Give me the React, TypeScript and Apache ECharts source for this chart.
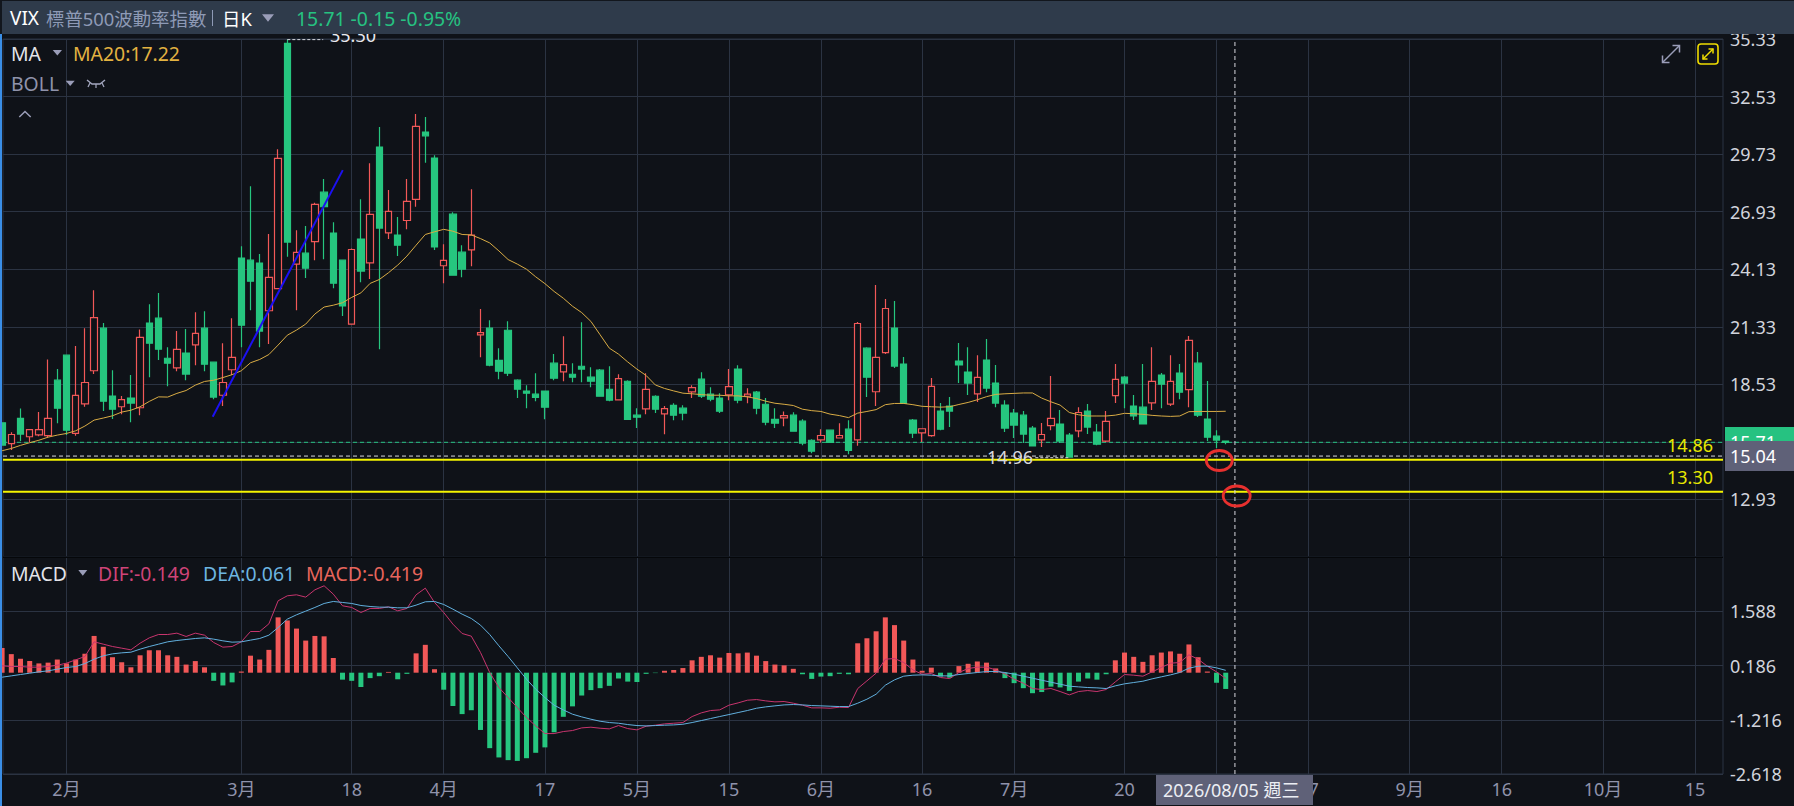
import React, { useEffect, useRef } from "react";
import * as echarts from "echarts";

const firstSlot = -1;
const candles: number[][] = [
[16.66,15.57,15.57,16.66],[15.65,16.09,15.33,16.20],[16.87,16.11,15.77,17.36],[15.98,16.33,15.73,16.33],[16.07,16.33,16.01,17.18],[16.03,16.87,15.94,19.74],[18.73,17.37,16.64,19.27],[19.95,16.30,16.06,19.95],[16.14,17.99,16.03,20.39],[17.58,18.62,17.44,21.26],
[19.19,21.78,19.03,23.11],[21.26,17.71,17.23,21.51],[17.96,17.32,16.84,19.22],[17.44,17.79,17.08,17.96],[17.86,17.62,16.69,18.98],[17.39,20.81,17.03,21.20],[21.51,20.53,18.88,22.43],[21.75,20.24,19.71,22.97],[19.80,19.56,18.44,20.34],[19.33,20.23,19.17,21.12],
[20.05,19.03,18.73,21.22],[20.45,21.01,19.46,22.04],[21.26,19.51,19.17,22.09],[19.61,17.91,17.81,19.61],[18.00,18.62,17.47,20.53],[19.24,19.84,18.98,21.75],[24.67,21.41,20.34,25.25],[24.57,23.55,22.14,28.17],[24.43,21.12,20.34,24.87],[22.11,23.73,20.49,25.84],
[23.19,29.52,23.16,29.97],[35.12,25.45,24.74,35.30],[24.38,24.95,22.14,26.03],[24.91,24.18,23.70,26.23],[25.47,27.28,24.57,27.36],[27.88,27.17,24.62,28.52],[25.89,23.45,23.21,26.42],[24.57,22.34,21.85,24.57],[21.46,25.09,21.46,25.14],[25.60,24.04,23.50,27.54],
[24.44,26.80,23.65,29.29],[30.07,26.13,20.24,31.05],[25.90,26.94,25.60,27.98],[25.79,25.30,24.77,26.67],[26.50,27.43,26.08,28.52],[27.53,31.08,27.17,31.68],[30.80,30.62,29.31,31.53],[29.54,25.21,25.06,29.68],[24.30,24.56,23.45,25.35],
[26.81,23.84,23.84,26.90],[24.96,24.13,23.74,25.30],[25.07,25.79,24.28,28.02],[20.94,21.05,19.85,22.19],[21.26,19.46,19.41,21.65],[19.70,19.17,18.78,20.29],[21.16,19.07,18.93,21.60],[18.73,18.29,17.86,18.78],[18.20,18.10,17.37,18.49],[18.05,17.90,17.71,19.07],
[18.20,17.42,16.83,18.20],[19.56,18.83,18.73,20.00],[19.14,19.49,18.68,20.87],[19.02,18.88,18.63,19.56],[19.41,19.27,18.63,21.55],[18.88,18.68,18.39,19.36],[19.22,17.95,17.95,19.27],[18.29,17.76,17.71,19.41],[17.77,18.81,17.77,19.02],[18.68,16.83,16.83,18.73],
[17.03,16.93,16.40,17.37],[17.34,18.28,17.08,19.07],[17.95,17.32,17.13,18.00],[17.09,17.35,16.10,17.47],[17.51,17.03,16.78,17.61],[17.37,17.13,16.78,17.51],[18.16,18.37,17.86,18.49],[18.78,17.95,17.86,19.12],[18.05,17.81,17.71,18.39],[17.86,17.22,17.13,18.10],
[18.02,18.42,17.76,19.27],[19.27,17.76,17.61,19.46],[17.95,18.05,17.61,18.34],[18.15,17.37,17.08,18.20],[17.56,16.69,16.54,17.86],[16.83,16.64,16.40,17.37],[16.90,17.01,16.49,17.21],[17.03,16.25,16.25,17.17],[16.74,15.67,15.57,16.83],[15.81,15.28,15.18,15.86],
[15.83,16.04,15.70,16.35],[16.30,15.70,15.67,16.30],[15.92,16.04,15.92,16.64],[16.35,15.32,15.13,16.78],[15.83,21.49,15.54,21.56],[20.29,18.88,17.91,20.34],[18.17,19.84,17.47,23.36],[20.07,22.22,20.00,22.68],[21.27,19.42,19.32,22.58],[19.52,17.60,17.60,19.86],
[16.79,16.16,15.92,16.84],[16.17,16.37,15.72,16.37],[16.03,18.43,15.98,18.84],[17.23,16.35,16.30,17.62],[17.47,17.23,16.45,17.91],[19.66,19.47,18.59,20.54],[19.13,18.59,18.01,20.34],[18.07,18.87,17.67,19.95],[19.71,18.35,18.15,20.73],[18.59,17.62,17.42,19.47],
[17.52,16.40,16.21,17.76],[17.13,16.55,15.92,17.33],[17.03,16.11,15.67,17.23],[16.40,15.53,15.53,16.50],[15.83,16.09,15.48,16.65],[16.52,16.87,16.30,18.93],[16.60,15.77,15.67,17.28],[16.06,14.99,14.96,16.16],[16.27,17.16,15.96,17.42],[17.23,16.45,16.11,17.57],
[16.21,15.62,15.57,16.60],[15.77,16.73,15.72,17.23],[17.98,18.77,17.62,19.52],[18.88,18.59,17.37,18.93],[17.47,16.99,16.79,18.01],[17.42,16.60,16.60,19.52],[17.63,18.67,17.28,20.34],[18.98,18.54,17.37,19.08],[17.57,18.67,17.47,19.95],[19.08,18.15,17.81,19.52],
[18.27,20.67,17.42,20.88],[19.56,17.03,16.94,20.10],[16.84,15.96,15.77,18.69],[16.01,15.82,15.43,16.30],[15.77,15.71,15.62,15.77],
];
const ma20 = [
15.30,15.41,15.56,15.69,15.81,15.96,16.06,16.14,16.27,16.50,16.79,16.89,17.00,17.18,17.27,17.44,17.70,17.92,17.91,18.09,18.23,18.49,18.67,18.73,18.86,19.00,19.19,19.58,19.74,19.98,20.44,20.92,21.17,21.46,21.95,22.29,22.38,22.50,22.76,22.98,23.44,23.63,23.96,24.33,24.77,25.30,25.82,25.95,26.07,
25.98,25.82,25.80,25.62,25.41,25.02,24.60,24.38,24.13,23.76,23.43,23.05,22.72,22.33,22.02,21.59,20.94,20.29,20.00,19.62,19.27,18.96,18.50,18.33,18.21,18.10,18.07,18.03,18.00,18.00,17.97,17.97,17.92,17.84,17.71,17.61,17.56,17.50,17.32,17.25,17.21,17.08,17.01,16.91,17.13,17.21,17.30,
17.54,17.60,17.60,17.54,17.46,17.44,17.42,17.44,17.55,17.65,17.78,17.93,18.04,18.07,18.09,18.11,18.11,17.86,17.68,17.52,17.16,17.05,16.99,16.99,16.99,17.03,17.12,17.10,17.07,17.02,16.99,16.97,16.99,17.20,17.21,17.21,17.21,17.22,
];
const difValues = [
.177,.160,.160,.143,.143,.160,.194,.246,.332,.418,.798,.737,.677,.634,.591,.763,.901,.987,.987,1.022,.936,1.022,.970,.780,.660,.677,.798,1.065,1.065,1.263,1.858,1.987,2.013,1.953,2.142,2.246,2.030,1.729,1.686,1.556,1.660,1.660,1.703,1.599,1.660,2.013,2.185,1.815,1.556,
1.255,1.013,.944,.522,.005,-.383,-.642,-.901,-1.159,-1.375,-1.573,-1.573,-1.521,-1.495,-1.426,-1.409,-1.435,-1.452,-1.366,-1.444,-1.478,-1.383,-1.357,-1.323,-1.306,-1.288,-1.133,-1.038,-.978,-.961,-.840,-.780,-.711,-.694,-.728,-.754,-.745,-.788,-.840,-.909,-.909,-.918,-.892,-.901,-.409,-.211,-.013,.349,
.367,.263,.074,-.039,-.021,-.125,-.151,.005,.108,.143,.143,.074,-.030,-.168,-.271,-.409,-.435,-.409,-.487,-.573,-.487,-.461,-.487,-.435,-.237,-.047,-.064,-.090,.022,.134,.246,.263,.462,.349,.168,.022,-.149,
];
const deaValues = [
-.116,-.082,-.047,-.013,.022,.048,.091,.134,.160,.237,.349,.436,.487,.513,.530,.608,.677,.737,.798,.832,.858,.884,.901,.867,.824,.789,.798,.841,.884,.970,1.168,1.384,1.496,1.591,1.686,1.789,1.841,1.815,1.789,1.737,1.711,1.694,1.694,1.677,1.677,1.746,1.832,1.841,1.763,
1.642,1.513,1.401,1.229,.987,.694,.418,.125,-.168,-.426,-.642,-.840,-.961,-1.073,-1.142,-1.202,-1.254,-1.288,-1.306,-1.340,-1.366,-1.375,-1.366,-1.357,-1.349,-1.332,-1.288,-1.237,-1.185,-1.133,-1.082,-1.030,-.978,-.918,-.883,-.857,-.832,-.823,-.832,-.849,-.857,-.866,-.875,-.875,-.788,-.685,-.556,-.323,
-.185,-.090,-.064,-.056,-.064,-.082,-.082,-.047,-.021,.005,.030,.030,.005,-.039,-.090,-.142,-.194,-.245,-.297,-.349,-.366,-.383,-.392,-.409,-.340,-.288,-.254,-.220,-.159,-.107,-.056,.005,.117,.168,.168,.125,.061,
];
const macdValues = [
.64,.48,.36,.30,.24,.26,.34,.24,.34,.49,.95,.67,.40,.27,.14,.45,.58,.58,.45,.41,.21,.30,.14,-.21,-.33,-.25,.03,.44,.34,.59,1.43,1.35,1.14,.83,.95,.94,.38,-.18,-.21,-.37,-.14,-.09,.02,-.17,-.03,.50,.72,.09,-.44,
-.86,-1.07,-.97,-1.48,-1.95,-2.19,-2.26,-2.28,-2.21,-2.07,-1.93,-1.54,-1.14,-.87,-.59,-.45,-.40,-.34,-.15,-.23,-.24,-.03,-.01,.05,.07,.12,.32,.41,.45,.39,.51,.50,.52,.44,.30,.21,.19,.10,-.04,-.16,-.10,-.09,-.03,-.04,.76,.89,1.07,1.43,
1.23,.83,.34,.05,.13,-.10,-.13,.17,.23,.29,.26,.11,-.14,-.27,-.40,-.53,-.50,-.36,-.38,-.47,-.23,-.15,-.18,-.04,.32,.52,.41,.28,.45,.52,.55,.49,.73,.40,.03,-.26,-.42,
];
const priceTicks = [12.93, 15.73, 18.53, 21.33, 24.13, 26.93, 29.73, 32.53, 35.33];
const macdTicks = [-2.618, -1.216, 0.186, 1.588];
const xTickSlots = [6, 25, 37, 47, 58, 68, 78, 88, 99, 109, 121, 131, 141, 152, 162, 173, 183];
const xTickLabels = ["2月", "3月", "18", "4月", "17", "5月", "15", "6月", "16", "7月", "20", "8月", "17", "9月", "16", "10月", "15"];
const supportLevels = [14.86, 13.30];
const lastPrice = 15.71;
const crossPrice = 15.04;
const crossSlot = 133;
const trendLine = [[21.89, 16.95], [36.03, 28.95]];
const highMark = [[30, 35.30], [33.9, 35.30]];
const lowMark = [[111.3, 14.96], [115, 14.96]];

const XMIN = -0.902, XMAX = 186.05;
const BG = "#0f1218", GRID = "#2b3342", UP = "#f25858", DOWN = "#26c67f";
const FONT = '"Noto Sans", "Noto Sans CJK TC", sans-serif';

const slotted = (vals: number[]) => vals.map((v, i) => [i + firstSlot, v]);
const hline = (v: number) => [[XMIN, v], [XMAX, v]];

function txt(x: number, y: number, text: string, fill: string, extra: any = {}, z = 70) {
  return {
    type: "text", z, silent: true,
    style: { x, y, text, fill, font: `18px ${FONT}`, align: "left", verticalAlign: "middle", textAlign: "left", textVerticalAlign: "middle", ...extra },
  };
}
const wide = { font: `19.4px ${FONT}` };
function tri(a: number, b: number, c: number, d: number, fill = "#9a9db8") {
  return { type: "polygon", z: 70, silent: true, shape: { points: [[a, c], [b, c], [(a + b) / 2, d]] }, style: { fill } };
}
function pl(points: number[][], stroke: string, lineWidth = 1.5, z = 70) {
  return { type: "polyline", z, silent: true, shape: { points }, style: { stroke, lineWidth, fill: "none" } };
}
function ell(cx: number, cy: number, rx: number, ry: number) {
  return { type: "ellipse", z: 72, silent: true, shape: { cx, cy, rx, ry }, style: { stroke: "#e8302e", lineWidth: 2.8, fill: "none" } };
}
function expandArrow(x1: number, y1: number, x2: number, y2: number, c: string, a: number) {
  return [
    pl([[x1, y1], [x2, y2]], c),
    pl([[x2 - a, y2], [x2, y2], [x2, y2 + a]], c),
    pl([[x1, y1 - a], [x1, y1], [x1 + a, y1]], c),
  ];
}

function buildOption() {
  const graphic: any[] = [
    { type: "rect", z: 60, silent: true, shape: { x: 0, y: 0, width: 1794, height: 34 }, style: { fill: "#2f3b4b" } },
    { type: "rect", z: 60, silent: true, shape: { x: 0, y: 0, width: 1794, height: 1 }, style: { fill: "#12161d" } },
    { type: "rect", z: 61, silent: true, shape: { x: 0, y: 34, width: 2, height: 772 }, style: { fill: "#3a8ee6" } },
    { type: "rect", z: 61, silent: true, shape: { x: 0, y: 0, width: 2, height: 34 }, style: { fill: "#12161d" } },
    { type: "rect", z: 55, silent: true, shape: { x: 3, y: 556.5, width: 1720, height: 1.4 }, style: { fill: "#05070a" } },
    txt(10, 18, "VIX", "#ffffff", { font: `19px ${FONT}` }),
    txt(46, 18, "標普500波動率指數", "#8e9ab6", { font: `18.4px ${FONT}` }),
    { type: "rect", z: 70, silent: true, shape: { x: 212, y: 10, width: 1, height: 16 }, style: { fill: "#8e9ab6" } },
    txt(222, 18, "日K", "#ffffff", { font: `18.4px ${FONT}` }),
    tri(262, 274, 14.3, 21.7),
    txt(296, 18, "15.71 -0.15 -0.95%", "#26c281", wide),
    txt(11, 53, "MA", "#e4e4ea", wide),
    tri(52.7, 62, 50, 55.5),
    txt(73, 53, "MA20:17.22", "#e3b341", wide),
    txt(11, 83, "BOLL", "#8f93ab", wide),
    tri(65.7, 74.7, 80.7, 86),
    pl([[87, 80], [92, 84], [100, 84], [105, 80]], "#a5a8c0", 1.4),
    pl([[90, 83], [88, 87]], "#a5a8c0", 1.2),
    pl([[96, 84], [96, 88]], "#a5a8c0", 1.2),
    pl([[102, 83], [104, 87]], "#a5a8c0", 1.2),
    pl([[19.3, 117], [25, 111.5], [30.7, 117]], "#9a9db8", 1.5),
    ...expandArrow(1662.5, 62.5, 1679.5, 45.5, "#9a9db8", 7),
    { type: "rect", z: 70, silent: true, shape: { x: 1698, y: 44, width: 20, height: 20, r: 3 }, style: { stroke: "#f0dd00", lineWidth: 1.6, fill: "none" } },
    ...expandArrow(1703, 59, 1713, 49, "#f0dd00", 4.5),
    txt(11, 573, "MACD", "#e4e4ea", wide),
    tri(78.3, 87.3, 570, 575.7),
    txt(98, 573, "DIF:-0.149", "#cf4478", wide),
    txt(203, 573, "DEA:0.061", "#6db5e0", wide),
    txt(306, 573, "MACD:-0.419", "#e8655c", wide),
    txt(330, 35, "35.30", "#e8e8ee", {}, 50),
    txt(987, 457, "14.96", "#d8d8de", {}, 50),
    txt(1713, 445, "14.86", "#e8e800", { align: "right", textAlign: "right" }),
    txt(1713, 477, "13.30", "#e8e800", { align: "right", textAlign: "right" }),
    ell(1219.3, 460.5, 13, 10),
    ell(1236.7, 496, 13.5, 10),
    { type: "rect", z: 62, silent: true, shape: { x: 1725, y: 427, width: 69, height: 15 }, style: { fill: "#26c281" } },
    txt(1730, 442, "15.71", "#ffffff", {}, 63),
    { type: "rect", z: 64, silent: true, shape: { x: 1725, y: 441, width: 69, height: 30 }, style: { fill: "#5f6178" } },
    txt(1730, 456, "15.04", "#ffffff", {}, 65),
    { type: "rect", z: 64, silent: true, shape: { x: 1156, y: 775, width: 157, height: 30 }, style: { fill: "#5f6178" } },
    txt(1163, 790, "2026/08/05 週三", "#eceef4", {}, 65),
  ];

  const thin = { symbol: "none", silent: true, smooth: false, animation: false };
  return {
    animation: false,
    backgroundColor: BG,
    textStyle: { fontFamily: FONT },
    grid: [
      { left: 3, width: 1720, top: 39, height: 518, show: true, borderColor: GRID, borderWidth: 1, backgroundColor: "transparent", outerBoundsMode: "none" },
      { left: 3, width: 1720, top: 557, height: 217, show: true, borderColor: GRID, borderWidth: 1, backgroundColor: "transparent", outerBoundsMode: "none" },
    ],
    xAxis: [0, 1].map((g) => ({
      type: "value", gridIndex: g, min: XMIN, max: XMAX, scale: true,
      axisLine: { show: false },
      axisTick: { show: false, customValues: xTickSlots },
      splitLine: { show: true, lineStyle: { color: GRID, width: 1 } },
      axisLabel: g === 0 ? { show: false, customValues: xTickSlots } : {
        show: true, customValues: xTickSlots, color: "#8f93ab", fontSize: 18, margin: 6, fontFamily: FONT, hideOverlap: false,
        formatter: (v: number) => xTickLabels[xTickSlots.indexOf(v)] ?? "",
      },
    })),
    yAxis: [
      {
        type: "value", gridIndex: 0, position: "right", min: 10.13, max: 35.33, scale: true,
        axisLine: { show: false },
        axisTick: { show: false, customValues: priceTicks },
        splitLine: { show: true, lineStyle: { color: GRID, width: 1 } },
        axisLabel: { customValues: priceTicks, color: "#d2d4dc", fontSize: 18, margin: 7, fontFamily: FONT, formatter: (v: number) => v.toFixed(2) },
      },
      {
        type: "value", gridIndex: 1, position: "right", min: -2.618, max: 2.99, scale: true,
        axisLine: { show: false },
        axisTick: { show: false, customValues: macdTicks },
        splitLine: { show: true, lineStyle: { color: GRID, width: 1 } },
        axisLabel: { customValues: macdTicks, color: "#d2d4dc", fontSize: 18, margin: 7, fontFamily: FONT, formatter: (v: number) => v.toFixed(3) },
      },
    ],
    series: [
      {
        type: "candlestick", name: "VIX", xAxisIndex: 0, yAxisIndex: 0, barWidth: 7, silent: true, z: 3,
        encode: { x: 0, y: [1, 2, 3, 4] },
        data: candles.map((c, i) => [i + firstSlot, ...c]),
        itemStyle: { color: BG, color0: DOWN, borderColor: UP, borderColor0: DOWN, borderWidth: 1.2 },
      },
      { ...thin, type: "line", name: "MA20", xAxisIndex: 0, yAxisIndex: 0, z: 4, data: slotted(ma20), lineStyle: { color: "#d9ac45", width: 1 } },
      { ...thin, type: "line", name: "Trend", xAxisIndex: 0, yAxisIndex: 0, z: 5, data: trendLine, lineStyle: { color: "#1c10f2", width: 2 } },
      { ...thin, type: "line", name: "Last", xAxisIndex: 0, yAxisIndex: 0, z: 3, data: hline(lastPrice), lineStyle: { color: "#26c281", width: 1, type: [4, 3] } },
      { ...thin, type: "line", name: "Cross", xAxisIndex: 0, yAxisIndex: 0, z: 3, data: hline(crossPrice), lineStyle: { color: "#d8d8de", width: 1, type: [4, 3] } },
      { ...thin, type: "line", name: "S1", xAxisIndex: 0, yAxisIndex: 0, z: 4, data: hline(supportLevels[0]), lineStyle: { color: "#f4f400", width: 2 } },
      { ...thin, type: "line", name: "S2", xAxisIndex: 0, yAxisIndex: 0, z: 4, data: hline(supportLevels[1]), lineStyle: { color: "#f4f400", width: 2 } },
      { ...thin, type: "line", name: "HighMark", xAxisIndex: 0, yAxisIndex: 0, z: 4, data: highMark, lineStyle: { color: "#d8d8de", width: 1, type: [3, 2] } },
      { ...thin, type: "line", name: "LowMark", xAxisIndex: 0, yAxisIndex: 0, z: 4, data: lowMark, lineStyle: { color: "#d8d8de", width: 1, type: [3, 2] } },
      { ...thin, type: "line", name: "CrossV", xAxisIndex: 0, yAxisIndex: 0, z: 6, data: [[crossSlot, 10.13], [crossSlot, 35.33]], lineStyle: { color: "#d8d8de", width: 1, type: [4, 3] } },
      {
        type: "bar", name: "MACD", xAxisIndex: 1, yAxisIndex: 1, barWidth: 5, silent: true, z: 3,
        data: macdValues.map((v, i) => ({ value: [i + firstSlot, v], itemStyle: { color: v >= 0 ? UP : DOWN } })),
      },
      { ...thin, type: "line", name: "DIF", xAxisIndex: 1, yAxisIndex: 1, z: 4, data: slotted(difValues), lineStyle: { color: "#c8356e", width: 1 } },
      { ...thin, type: "line", name: "DEA", xAxisIndex: 1, yAxisIndex: 1, z: 5, data: slotted(deaValues), lineStyle: { color: "#62b0de", width: 1 } },
      { ...thin, type: "line", name: "CrossV2", xAxisIndex: 1, yAxisIndex: 1, z: 6, data: [[crossSlot, -2.618], [crossSlot, 2.99]], lineStyle: { color: "#d8d8de", width: 1, type: [4, 3] } },
    ],
    graphic: { elements: graphic },
  };
}

export default function App() {
  const ref = useRef<HTMLDivElement>(null);
  useEffect(() => {
    if (!ref.current) return;
    const chart = echarts.init(ref.current, null, { renderer: "svg" });
    chart.setOption(buildOption());
    return () => chart.dispose();
  }, []);
  return <div ref={ref} style={{ position: "absolute", left: 0, top: 0, width: 1794, height: 806, overflow: "hidden" }} />;
}
